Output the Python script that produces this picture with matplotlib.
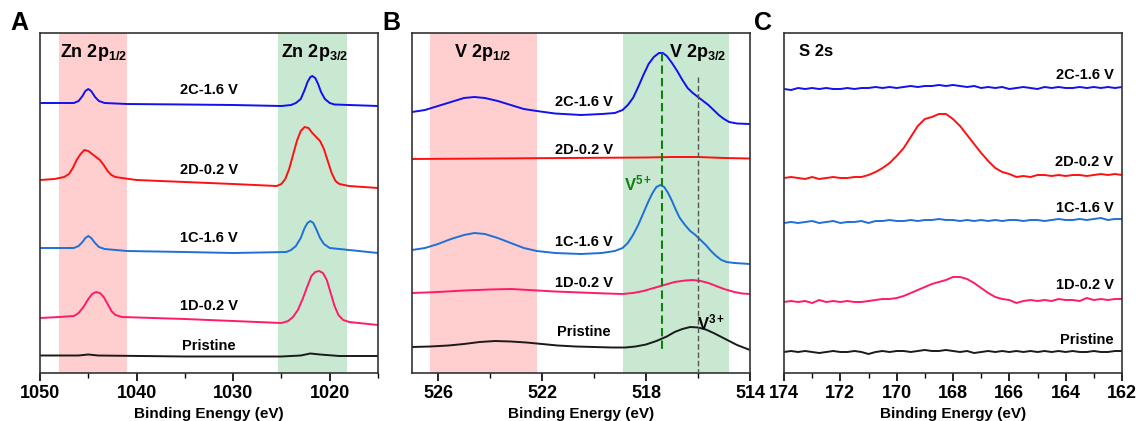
import matplotlib
matplotlib.use("Agg")
import matplotlib.pyplot as plt
from matplotlib.ticker import MultipleLocator, FixedLocator

plt.rcParams['font.family'] = ['Liberation Sans', 'DejaVu Sans']
plt.rcParams['font.weight'] = 'bold'
plt.rcParams['mathtext.fontset'] = 'custom'
plt.rcParams['mathtext.rm'] = 'Liberation Sans:bold'
plt.rcParams['mathtext.bf'] = 'Liberation Sans:bold'
plt.rcParams['mathtext.it'] = 'Liberation Sans:bold'
plt.rcParams['mathtext.default'] = 'bf'

# ---------------- panel A : Zn 2p ----------------
a_2c_x = [1050, 1048, 1046.5, 1046, 1045.6, 1045.3, 1045.0, 1044.7, 1044.3, 1043.9, 1043.3, 1041, 1035, 1030,
          1025, 1024, 1023.5, 1023, 1022.6, 1022.3, 1022.0, 1021.8, 1021.5, 1021.2, 1020.9, 1020.5, 1020.0,
          1019.5, 1018, 1015]
a_2c_y = [270, 270, 270, 272, 277, 282, 284, 282, 276, 272, 270, 269, 268.5, 268,
          267, 268, 270, 274, 283, 291, 296, 297, 295, 289, 281, 274, 270,
          268.5, 268, 267]
a_2d_x = [1050, 1048.5, 1047.5, 1047, 1046.6, 1046.2, 1045.8, 1045.4, 1045.0, 1044.6, 1044.2, 1043.8, 1043.4,
          1043.0, 1042.6, 1042.2, 1041.5, 1040, 1035, 1030, 1025.5, 1025, 1024.6, 1024.2, 1023.8, 1023.4,
          1023.0, 1022.6, 1022.2, 1021.8, 1021.4, 1021.0, 1020.6, 1020.2, 1019.8, 1019.4, 1019.0, 1018, 1015]
a_2d_y = [193, 194, 196, 199, 205, 213, 219, 223, 222, 219, 216, 213, 208,
          202, 198, 196, 195, 193, 191, 189, 187, 189, 194, 204, 218, 232,
          242, 246, 245, 240, 236, 232, 224, 212, 200, 192, 189, 187, 185]
a_1c_x = [1050, 1048, 1046.5, 1046, 1045.6, 1045.3, 1045.0, 1044.7, 1044.3, 1043.9, 1043.3, 1041, 1035, 1030,
          1024.5, 1024, 1023.5, 1023.0, 1022.6, 1022.3, 1022.0, 1021.7, 1021.4, 1021.0, 1020.6, 1020.0,
          1019, 1018, 1015]
a_1c_y = [125, 125, 125, 127, 131, 135, 137, 135, 130, 126, 124, 122, 121, 120,
          121, 123, 127, 135, 145, 150, 152, 150, 144, 135, 129, 125,
          124, 123, 120]
a_1d_x = [1050, 1048, 1046.5, 1046, 1045.5, 1045.0, 1044.6, 1044.2, 1043.8, 1043.4, 1043.0, 1042.6, 1042.2,
          1041.5, 1035, 1030, 1025, 1024.3, 1023.8, 1023.3, 1022.8, 1022.3, 1021.9, 1021.5, 1021.1, 1020.7,
          1020.3, 1019.9, 1019.5, 1019.1, 1018.6, 1018, 1015]
a_1d_y = [55, 56, 57, 60, 66, 74, 79, 81, 80, 76, 69, 62, 58,
          56, 54, 52, 50, 52, 56, 63, 74, 87, 97, 101, 102, 100,
          93, 80, 67, 58, 53, 51, 48]
a_pr_x = [1050, 1046, 1045, 1044, 1035, 1025, 1023, 1022, 1021, 1019, 1015]
a_pr_y = [17.5, 17.5, 18.5, 17.5, 16.5, 16.5, 17.5, 19.5, 18.5, 17, 17]

# ---------------- panel B : V 2p ----------------
b_2c_x = [527, 526.5, 526, 525.5, 525, 524.6, 524.2, 523.7, 523.2, 522.7, 522.2, 521.5, 520.5, 519.7,
          519.2, 518.9, 518.7, 518.5, 518.3, 518.1, 517.9, 517.7, 517.5, 517.35, 517.2, 517.0, 516.8,
          516.6, 516.4, 516.2, 516.0, 515.8, 515.6, 515.4, 515.2, 515.0, 514.8, 514.5, 514]
b_2c_y = [261, 263, 267, 271, 275, 276, 275, 272, 268, 264, 262, 259.5, 258, 259,
          260, 263, 268, 275, 286, 298, 309, 316, 320, 320, 317, 310, 302,
          293, 285, 280, 276, 272, 268, 263, 258, 254, 251, 249.5, 249]
b_2d_x = [527, 524, 521, 518, 517, 516, 515, 514]
b_2d_y = [214, 214.5, 215, 215.5, 216, 216, 215, 214.5]
b_1c_x = [527, 526.5, 526, 525.5, 525, 524.6, 524.2, 523.7, 523.2, 522.7, 522.2, 521.5, 520.5, 519.7,
          519.2, 518.9, 518.7, 518.5, 518.3, 518.1, 517.9, 517.75, 517.6, 517.45, 517.3, 517.15, 517.0,
          516.85, 516.7, 516.5, 516.3, 516.1, 515.9, 515.7, 515.5, 515.3, 515.1, 514.9, 514.6, 514.3, 514]
b_1c_y = [123, 125, 129, 134, 138, 140, 139, 135, 130, 125, 122, 120, 119, 120,
          122, 125, 130, 138, 148, 160, 172, 180, 186, 188, 186, 180, 172,
          163, 155, 148, 142, 138, 133, 128, 122, 117, 113, 111, 110, 109.5, 109]
b_1d_x = [527, 526, 525, 524, 523.2, 522.5, 521.5, 520.5, 519.5, 518.9, 518.5, 518.1, 517.7, 517.3,
          516.9, 516.5, 516.2, 515.9, 515.6, 515.3, 515.0, 514.6, 514.3, 514]
b_1d_y = [80, 81, 82.5, 83.5, 84, 83, 81.5, 80.5, 79.5, 79, 80, 82, 85, 88,
          91, 92.5, 93, 92, 90, 87, 84, 81, 79.5, 79]
b_pr_x = [527, 526.3, 525.6, 525, 524.4, 523.8, 523.2, 522.6, 522, 521.4, 520.7, 520, 519.3, 518.8,
          518.4, 518.0, 517.6, 517.2, 516.9, 516.6, 516.3, 516.0, 515.7, 515.4, 515.1, 514.8, 514.5,
          514.2, 514]
b_pr_y = [26, 26.5, 27.5, 29, 31, 32, 31.5, 30.5, 29, 27.5, 26.5, 26, 25.5, 25.5,
          26.5, 28.5, 32, 36.5, 41, 44, 46, 45.5, 43.5, 40, 36, 32, 28,
          25, 23]

# ---------------- panel C : S 2s ----------------
c_x = [174.0, 173.75, 173.5, 173.25, 173.0, 172.75, 172.5, 172.25, 172.0, 171.75, 171.5, 171.25, 171.0,
       170.75, 170.5, 170.25, 170.0, 169.75, 169.5, 169.25, 169.0, 168.75, 168.5, 168.25, 168.0,
       167.75, 167.5, 167.25, 167.0, 166.75, 166.5, 166.25, 166.0, 165.75, 165.5, 165.25, 165.0,
       164.75, 164.5, 164.25, 164.0, 163.75, 163.5, 163.25, 163.0, 162.75, 162.5, 162.25, 162.0]
c_2c_y = [284, 283, 285, 284, 285, 284, 285, 284, 284, 285, 284, 285, 285,
          286, 285, 286, 285, 286, 287, 286, 287, 287, 288, 287, 288,
          287, 286, 287, 285, 286, 285, 286, 284, 285, 286, 285, 284,
          286, 285, 286, 285, 285, 286, 285, 286, 285, 286, 285, 286]
c_2d_y = [195, 196, 195, 194, 196, 194, 195, 196, 195, 195, 196, 196, 198,
          201, 205, 210, 217, 225, 236, 247, 254, 256, 259, 259, 254,
          247, 238, 229, 220, 212, 205, 201, 199, 196, 197, 196, 198,
          198, 197, 198, 197, 198, 198, 197, 198, 199, 198, 199, 198]
c_1c_y = [150, 151, 150, 151, 152, 150, 151, 152, 150, 151, 151, 152, 150,
          152, 152, 153, 152, 152, 153, 152, 153, 153, 154, 153, 153,
          152, 153, 152, 153, 152, 153, 152, 153, 153, 152, 153, 153,
          152, 153, 154, 153, 153, 154, 153, 154, 155, 153, 154, 154]
c_1d_y = [71, 72, 71, 72, 70, 73, 71, 72, 71, 72, 71, 71, 72,
          73, 74, 74, 75, 77, 80, 83, 86, 89, 91, 93, 96,
          96, 94, 90, 85, 80, 76, 74, 73, 70, 72, 73, 72,
          73, 72, 74, 73, 73, 72, 75, 73, 74, 73, 74, 74]
c_pr_y = [21, 22, 21, 22, 21, 20, 21, 22, 21, 21, 22, 21, 19,
          21, 22, 21, 22, 22, 21, 22, 23, 22, 22, 23, 22,
          21, 22, 20, 21, 22, 21, 22, 21, 22, 21, 22, 21,
          22, 21, 22, 21, 22, 21, 21, 22, 21, 21, 22, 22]

labels = ['2C-1.6 V', '2D-0.2 V', '1C-1.6 V', '1D-0.2 V', 'Pristine']
colors = ['#1010F0', '#FF1010', '#1E6FD9', '#FF1A6A', '#1A1A1A']

pink = '#FFCFCF'
green = '#C8E8D2'

fig = plt.figure(figsize=(11.39, 4.21), dpi=100)
axA = fig.add_axes([40 / 1139, 48 / 421, 338 / 1139, 340 / 421])
axB = fig.add_axes([412 / 1139, 48 / 421, 338 / 1139, 340 / 421])
axC = fig.add_axes([784 / 1139, 48 / 421, 338 / 1139, 340 / 421])

# A
axA.axvspan(1048, 1041, color=pink, lw=0, zorder=0)
axA.axvspan(1025.4, 1018.2, color=green, lw=0, zorder=0)
for (x, y), c in zip([(a_2c_x, a_2c_y), (a_2d_x, a_2d_y), (a_1c_x, a_1c_y), (a_1d_x, a_1d_y), (a_pr_x, a_pr_y)], colors):
    axA.plot(x, y, color=c, lw=1.4)
for lab, yy in zip(labels, [283, 203, 135, 67, 27]):
    axA.text(1032.5, yy, lab, ha='center', va='center', fontsize=10.5, fontweight='bold')
axA.text(1044.5, 320, 'Zn 2p$_{1/2}$', ha='center', va='center', fontsize=13, fontweight='bold')
axA.text(1021.6, 320, 'Zn 2p$_{3/2}$', ha='center', va='center', fontsize=13, fontweight='bold')
axA.set_xlim(1050, 1015)
axA.xaxis.set_major_locator(MultipleLocator(10))
axA.xaxis.set_minor_locator(MultipleLocator(5))
axA.set_xlabel('Binding Enengy (eV)', fontsize=11, fontweight='bold', labelpad=3)

# B
axB.axvspan(526.3, 522.2, color=pink, lw=0, zorder=0)
axB.axvspan(518.9, 514.8, color=green, lw=0, zorder=0)
for (x, y), c in zip([(b_2c_x, b_2c_y), (b_2d_x, b_2d_y), (b_1c_x, b_1c_y), (b_1d_x, b_1d_y), (b_pr_x, b_pr_y)], colors):
    axB.plot(x, y, color=c, lw=1.4)
axB.plot([517.4, 517.4], [320, 23], color='#108010', lw=1.5, ls=(0, (4, 2)), zorder=3)
axB.plot([516.0, 516.0], [296, 0], color='#555555', lw=1.0, ls=(0, (4, 2)), zorder=3)
for lab, yy in zip(labels, [271, 223, 131, 90, 41]):
    axB.text(520.4, yy, lab, ha='center', va='center', fontsize=10.5, fontweight='bold')
axB.text(524.3, 320, 'V 2p$_{1/2}$', ha='center', va='center', fontsize=13, fontweight='bold')
axB.text(516.0, 320, 'V 2p$_{3/2}$', ha='center', va='center', fontsize=13, fontweight='bold')
axB.text(518.3, 190, 'V$^{5+}$', ha='center', va='center', fontsize=12, fontweight='bold', color='#108010')
axB.text(515.5, 51, 'V$^{3+}$', ha='center', va='center', fontsize=12, fontweight='bold')
axB.set_xlim(527, 514)
axB.xaxis.set_major_locator(FixedLocator([526, 522, 518, 514]))
axB.xaxis.set_minor_locator(FixedLocator([524, 520, 516]))
axB.set_xlabel('Binding Energy (eV)', fontsize=11, fontweight='bold', labelpad=3)

# C
for y, c in zip([c_2c_y, c_2d_y, c_1c_y, c_1d_y, c_pr_y], colors):
    axC.plot(c_x, y, color=c, lw=1.4)
for lab, yy in zip(labels, [298, 211, 165, 88, 33]):
    axC.text(162.3, yy, lab, ha='right', va='center', fontsize=10.5, fontweight='bold')
axC.text(173.45, 321, 'S 2s', ha='left', va='center', fontsize=12, fontweight='bold')
axC.set_xlim(174, 162)
axC.xaxis.set_major_locator(MultipleLocator(2))
axC.xaxis.set_minor_locator(MultipleLocator(1))
axC.set_xlabel('Binding Energy (eV)', fontsize=11, fontweight='bold', labelpad=3)

for ax, letter in zip([axA, axB, axC], ['A', 'B', 'C']):
    ax.set_ylim(0, 340)
    ax.set_yticks([])
    for s in ax.spines.values():
        s.set_linewidth(1.2)
        s.set_color('#333333')
    ax.tick_params(axis='x', which='major', direction='out', length=6, width=1.2, labelsize=13, pad=3)
    ax.tick_params(axis='x', which='minor', direction='out', length=3.5, width=1.0)
    for t in ax.get_xticklabels():
        t.set_fontweight('bold')
    bb = ax.get_position()
    fig.text(bb.x0 - 30 / 1139, bb.y1 - 2 / 421, letter, fontsize=18, fontweight='bold', ha='left', va='bottom')

fig.savefig('out.png', dpi=100)
